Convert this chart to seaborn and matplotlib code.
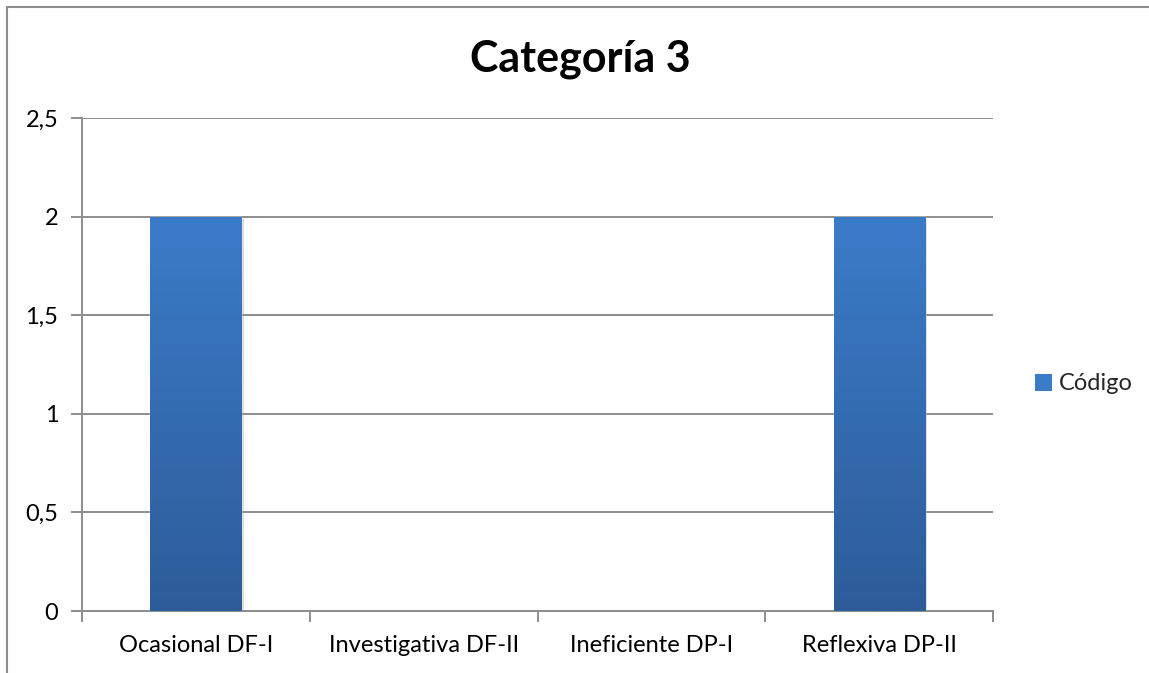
import numpy as np
import pandas as pd
import seaborn as sns
import matplotlib
matplotlib.use("Agg")
import matplotlib.pyplot as plt
from matplotlib.patches import Patch
from matplotlib.lines import Line2D
from matplotlib.colors import LinearSegmentedColormap
import matplotlib.patheffects as pe

# Chart data
categories = ["Ocasional DF-I", "Investigativa DF-II", "Ineficiente DP-I", "Reflexiva DP-II"]
values = [2, 0, 0, 2]
series_name = "Código"
title = "Categoría 3"
y_ticks = [0, 0.5, 1, 1.5, 2, 2.5]
y_tick_labels = ["0", "0,5", "1", "1,5", "2", "2,5"]

sns.set_theme(style="white")
plt.rcParams["font.family"] = ["Lato", "DejaVu Sans"]

GRID = "#8c8c8c"
TOP_BLUE = "#3b7cc9"
BOTTOM_BLUE = "#2d5c99"
LABEL_SIZE = 17

df = pd.DataFrame({"categoria": categories, "valor": values})

fig = plt.figure(figsize=(11.49, 6.73), dpi=100)
ax = fig.add_axes([82 / 1149, 62 / 673, (993 - 82) / 1149, (611 - 118) / 673])

sns.barplot(data=df, x="categoria", y="valor", color=BOTTOM_BLUE, width=0.4,
            saturation=1, ax=ax, zorder=3)

ax.set_xlim(-0.5, len(categories) - 0.5)
ax.set_ylim(0, 2.5)

# vertical gradient fill with a soft drop shadow on each bar
cmap = LinearSegmentedColormap.from_list("bar", [BOTTOM_BLUE, TOP_BLUE])
grad = np.linspace(0, 1, 256).reshape(-1, 1)
for bar in ax.patches:
    h = bar.get_height()
    if h <= 0:
        bar.set_visible(False)
        continue
    x0 = bar.get_x()
    w = bar.get_width()
    bar.set_path_effects([pe.SimplePatchShadow(offset=(2, -2), shadow_rgbFace="#9a9a9a", alpha=0.35),
                          pe.Normal()])
    im = ax.imshow(grad, extent=[x0, x0 + w, 0, h], origin="lower", cmap=cmap,
                   aspect="auto", zorder=4)
    im.set_clip_path(bar)

ax.set_xlim(-0.5, len(categories) - 0.5)
ax.set_ylim(0, 2.5)

# y axis
ax.set_yticks(y_ticks)
ax.set_yticklabels(y_tick_labels, fontsize=LABEL_SIZE, color="black")
ax.yaxis.grid(True, color=GRID, linewidth=1.4, zorder=0)
ax.set_axisbelow(True)
ax.tick_params(axis="y", which="major", length=8, width=1.4, color=GRID,
               pad=9, left=True, direction="out")

# x axis: boundary ticks, labels at category centres
n = len(categories)
ax.set_xticks(np.arange(-0.5, n, 1.0))
ax.set_xticklabels([""] * (n + 1))
ax.set_xticks(np.arange(n), minor=True)
ax.set_xticklabels(categories, minor=True, fontsize=LABEL_SIZE, color="black")
ax.tick_params(axis="x", which="major", length=8, width=1.4, color=GRID,
               bottom=True, direction="out")
ax.tick_params(axis="x", which="minor", length=0, pad=17)

ax.set_xlabel("")
ax.set_ylabel("")
for side in ["top", "right"]:
    ax.spines[side].set_visible(False)
for side in ["left", "bottom"]:
    ax.spines[side].set_color(GRID)
    ax.spines[side].set_linewidth(1.4)

fig.text(580 / 1149, 1 - 59 / 673, title, ha="center", va="center",
         fontsize=31, fontweight="bold", color="black")

handle = Patch(facecolor=TOP_BLUE, edgecolor="none")
fig.legend([handle], [series_name], loc="center left",
           bbox_to_anchor=(1035 / 1149, 1 - 384 / 673), frameon=False,
           fontsize=LABEL_SIZE, handlelength=0.7, handleheight=0.7, handletextpad=0.3,
           borderpad=0, borderaxespad=0)

# outer chart frame
fig.add_artist(Line2D([7 / 1149, 1.0], [1 - 6.5 / 673, 1 - 6.5 / 673],
                      transform=fig.transFigure, color=GRID, linewidth=1.5))
fig.add_artist(Line2D([7 / 1149, 7 / 1149], [1 - 6.5 / 673, 0.0],
                      transform=fig.transFigure, color=GRID, linewidth=1.5))

fig.savefig("out.png", dpi=100, facecolor="white")
